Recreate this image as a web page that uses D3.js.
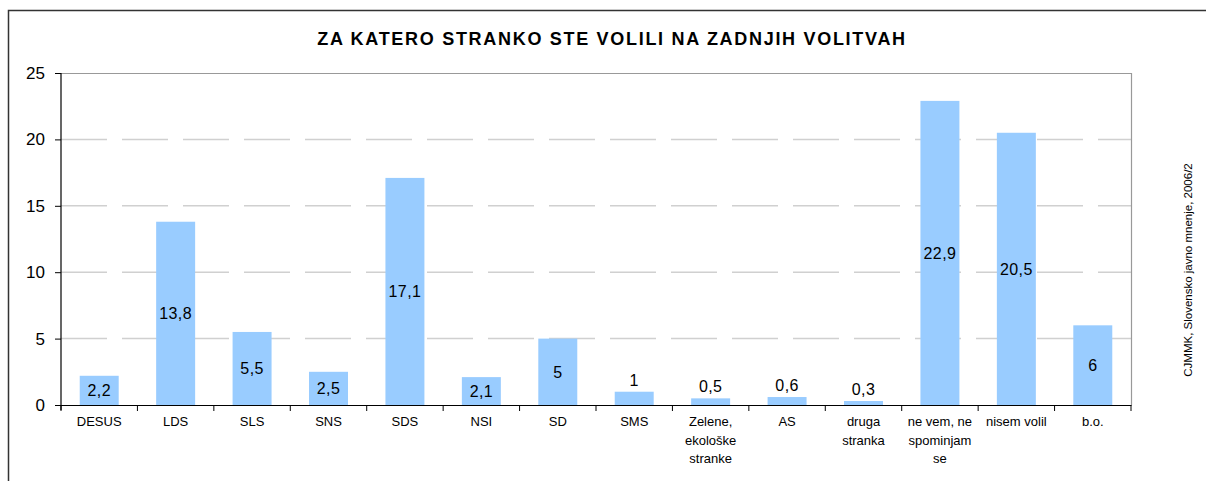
<!DOCTYPE html>
<html>
<head>
<meta charset="utf-8">
<script src="https://cdn.jsdelivr.net/npm/d3@7"></script>
<style>
  body { margin: 0; background: #fff; }
  text { font-family: Arial, "Liberation Sans", sans-serif; fill: #000; }
</style>
</head>
<body>
<script>
// party names, one row per text line under the axis
var parties = ["DESUS", "LDS", "SLS", "SNS", "SDS", "NSI", "SD", "SMS",
    "Zelene, ekološke stranke", "AS", "druga stranka", "ne vem, ne spominjam se", "nisem volil", "b.o."];
var partyLines = [["DESUS"], ["LDS"], ["SLS"], ["SNS"], ["SDS"], ["NSI"], ["SD"], ["SMS"],
    ["Zelene,", "ekološke", "stranke"], ["AS"], ["druga", "stranka"], ["ne vem, ne", "spominjam", "se"], ["nisem volil"], ["b.o."]];
var shares = [2.2, 13.8, 5.5, 2.5, 17.1, 2.1, 5, 1, 0.5, 0.6, 0.3, 22.9, 20.5, 6];
var yTicks = [0, 5, 10, 15, 20, 25];

var title = "ZA KATERO STRANKO STE VOLILI NA ZADNJIH VOLITVAH";
var source = "CJMMK, Slovensko javno mnenje, 2006/2";

window.onload = function(){
    var W = 1206, H = 481;
    var left = 61, right = 1131, top = 73, bottom = 405;

    var svg = d3.select("body").append("svg")
        .attr("width", W)
        .attr("height", H);

    // outer chart frame (runs off the picture right and bottom)
    svg.append("rect")
        .attr("x", 8.5).attr("y", 10.5)
        .attr("width", W).attr("height", H)
        .style("fill", "none")
        .style("stroke", "#333")
        .style("stroke-width", 1.5);

    var x = d3.scaleBand()
        .domain(parties)
        .range([left, right])
        .paddingInner(0.49)
        .paddingOuter(0.245);

    var y = d3.scaleLinear()
        .domain([0, 25])
        .range([bottom, top]);

    // dashed gridlines
    svg.append("g").selectAll("line")
        .data(yTicks.filter(function(d){ return d > 0 && d < 25; }))
        .enter().append("line")
        .attr("x1", left).attr("x2", right)
        .attr("y1", function(d){ return y(d); })
        .attr("y2", function(d){ return y(d); })
        .style("stroke", "#d0d0d0")
        .style("stroke-width", 1.5)
        .style("stroke-dasharray", "46,15");

    // plot area border top / right
    svg.append("path")
        .attr("d", "M" + left + "," + (top + 0.5) + "H" + (right + 0.5) + "V" + bottom)
        .style("fill", "none")
        .style("stroke", "#999")
        .style("stroke-width", 1.2);

    // bars
    svg.append("g").selectAll("rect")
        .data(shares)
        .enter().append("rect")
        .attr("x", function(d, i){ return x(parties[i]); })
        .attr("y", function(d){ return y(d); })
        .attr("width", x.bandwidth())
        .attr("height", function(d){ return bottom - y(d); })
        .style("fill", "#99ccff");

    // value labels - small bars get it on top, others centred inside
    svg.append("g").selectAll("text")
        .data(shares)
        .enter().append("text")
        .attr("x", function(d, i){ return x(parties[i]) + x.bandwidth() / 2; })
        .attr("y", function(d){
            if (d < 2) return y(d) - 6;
            return (y(d) + bottom) / 2 + 6;
        })
        .attr("text-anchor", "middle")
        .style("font-size", "16px")
        .style("letter-spacing", "0.4px")
        .text(function(d){ return String(d).replace(".", ","); });

    // y axis
    var yAxis = d3.axisLeft(y).tickValues(yTicks).tickSize(6).tickPadding(10);
    var ya = svg.append("g")
        .attr("transform", "translate(" + left + ",0)")
        .call(yAxis);
    ya.select(".domain").remove();
    ya.append("line").attr("y1", top).attr("y2", bottom + 5).style("stroke", "#000").style("stroke-width", 1.2);
    ya.selectAll(".tick line").style("stroke", "#000");
    ya.selectAll(".tick text")
        .style("font-size", "17px")
        .style("font-family", "Arial, 'Liberation Sans', sans-serif")
        .style("fill", "#000");

    // x axis with ticks on the category boundaries
    var xa = svg.append("g");
    xa.append("line")
        .attr("x1", left - 6).attr("x2", right + 0.5)
        .attr("y1", bottom + 0.5).attr("y2", bottom + 0.5)
        .style("stroke", "#000").style("stroke-width", 1.2);
    var step = x.step();
    xa.selectAll(".xtick")
        .data(d3.range(parties.length + 1))
        .enter().append("line")
        .attr("class", "xtick")
        .attr("x1", function(i){ return left + i * step; })
        .attr("x2", function(i){ return left + i * step; })
        .attr("y1", bottom).attr("y2", bottom + 6)
        .style("stroke", "#000");

    var cats = xa.selectAll(".cat")
        .data(partyLines)
        .enter().append("text")
        .attr("class", "cat")
        .attr("text-anchor", "middle")
        .style("font-size", "13px");
    cats.each(function(lines, i){
        var t = d3.select(this);
        lines.forEach(function(s, k){
            t.append("tspan")
                .attr("x", x(parties[i]) + x.bandwidth() / 2)
                .attr("y", bottom + 21 + k * 18.5)
                .text(s);
        });
    });

    // title
    svg.append("text")
        .attr("x", 612).attr("y", 45)
        .attr("text-anchor", "middle")
        .style("font-size", "18px")
        .style("font-weight", "bold")
        .style("letter-spacing", "1.7px")
        .text(title);

    // source, rotated
    svg.append("text")
        .attr("transform", "translate(1192,270) rotate(-90)")
        .attr("text-anchor", "middle")
        .style("font-size", "11.5px")
        .text(source);
};
</script>
</body>
</html>
